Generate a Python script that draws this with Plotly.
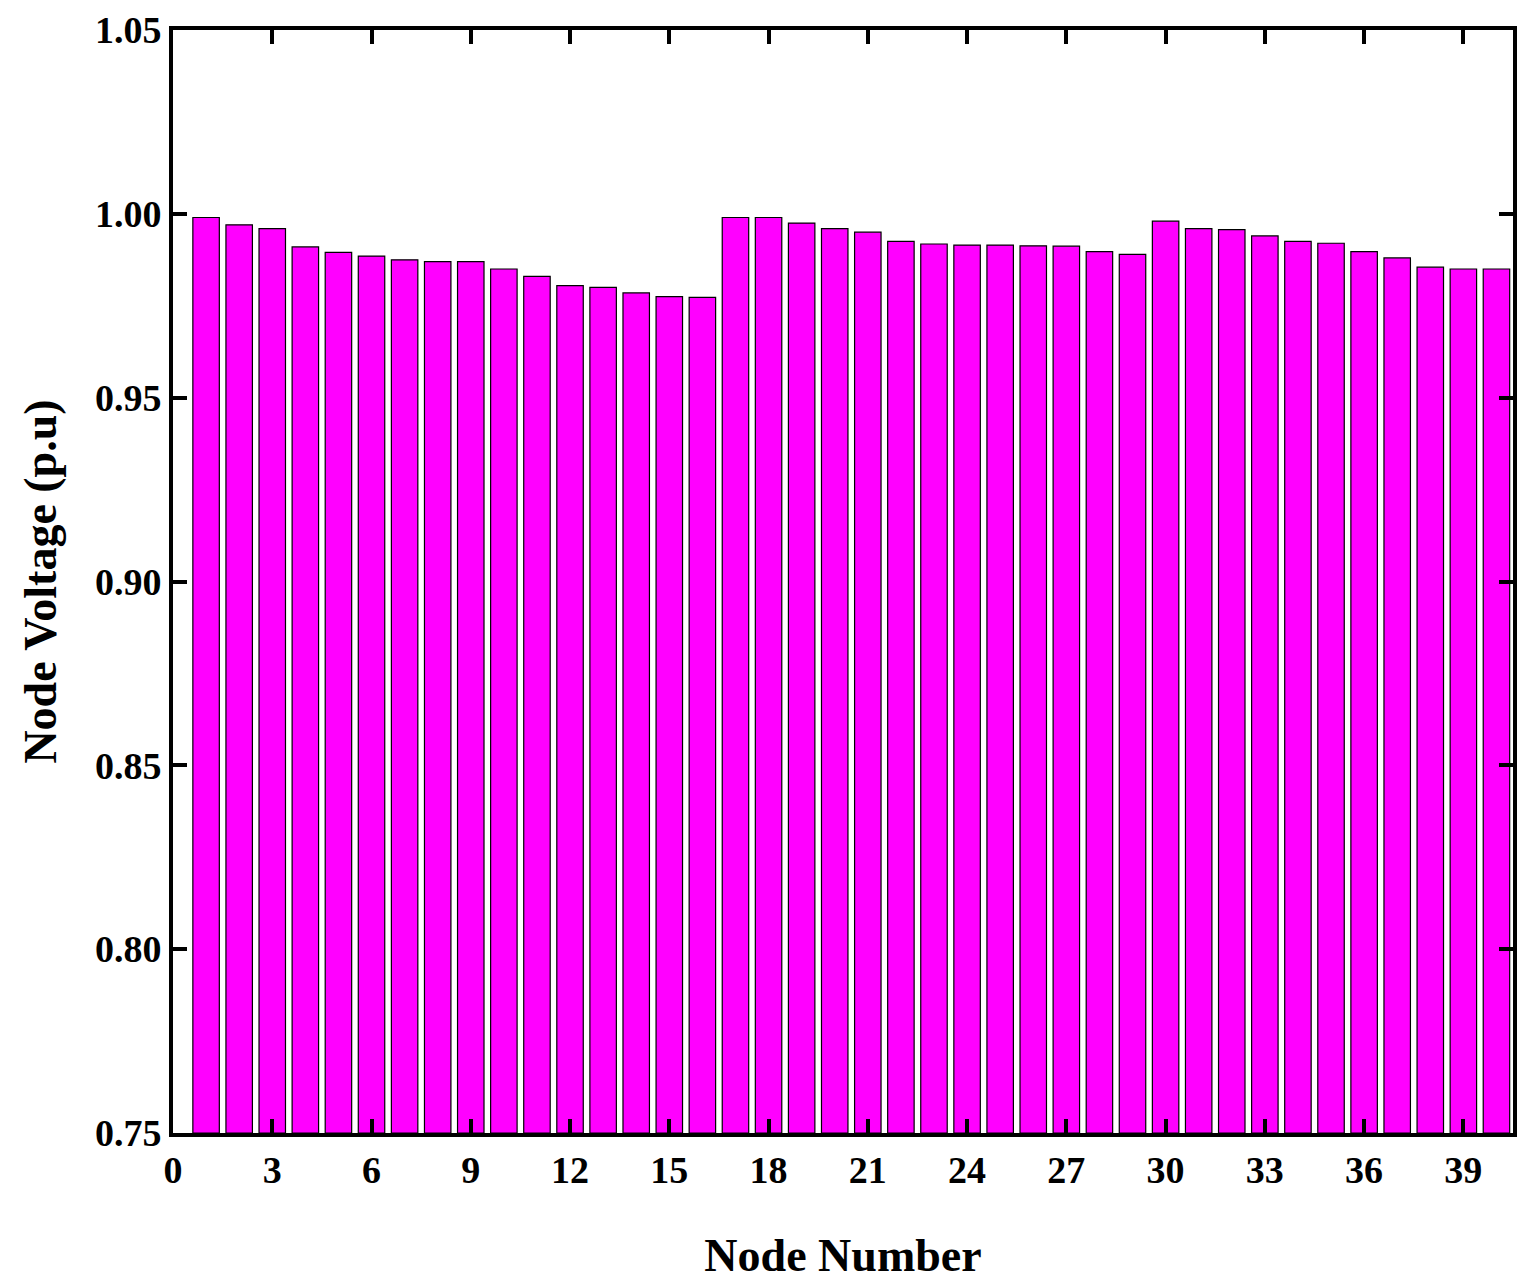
import plotly.graph_objects as go

nodes = list(range(1, 41))
voltage = [0.999, 0.997, 0.996, 0.991, 0.9895, 0.9885, 0.9875, 0.987, 0.987, 0.985,
           0.983, 0.9805, 0.980, 0.9785, 0.9775, 0.9773, 0.999, 0.999, 0.9975, 0.996,
           0.995, 0.9925, 0.9918, 0.9915, 0.9915, 0.9913, 0.9912, 0.9897, 0.989, 0.998,
           0.996, 0.9957, 0.994, 0.9925, 0.992, 0.9897, 0.988, 0.9855, 0.985, 0.985]
x_ticks = list(range(0, 40, 3))
y_ticks = [0.75, 0.80, 0.85, 0.90, 0.95, 1.00, 1.05]

font = dict(family="Liberation Serif", size=38, color="black")

fig = go.Figure(go.Bar(
    x=nodes, y=[v - 0.75 for v in voltage], base=0.75, width=0.8,
    marker=dict(color="#ff00ff", line=dict(color="black", width=1.2)),
))
axis = dict(showline=True, linecolor="black", linewidth=4, mirror="allticks",
            ticks="inside", ticklen=14, tickwidth=4, tickcolor="black",
            showgrid=False, zeroline=False, automargin=False,
            tickfont=dict(family="Liberation Serif", size=38, color="black", weight="bold"))
fig.update_xaxes(axis, range=[0, 40.5], tickvals=x_ticks,
                 title=dict(text="<b>Node Number</b>", font=dict(family="Liberation Serif", size=46), standoff=50))
fig.update_yaxes(axis, range=[0.75, 1.05], tickvals=y_ticks, tickformat=".2f",
                 title=dict(text="<b>Node Voltage (p.u)</b>", font=dict(family="Liberation Serif", size=46), standoff=25))
fig.update_layout(width=1538, height=1282, plot_bgcolor="white", paper_bgcolor="white",
                  margin=dict(l=165, r=33, t=22, b=157), showlegend=False, font=font)
fig.write_html("out.html")
